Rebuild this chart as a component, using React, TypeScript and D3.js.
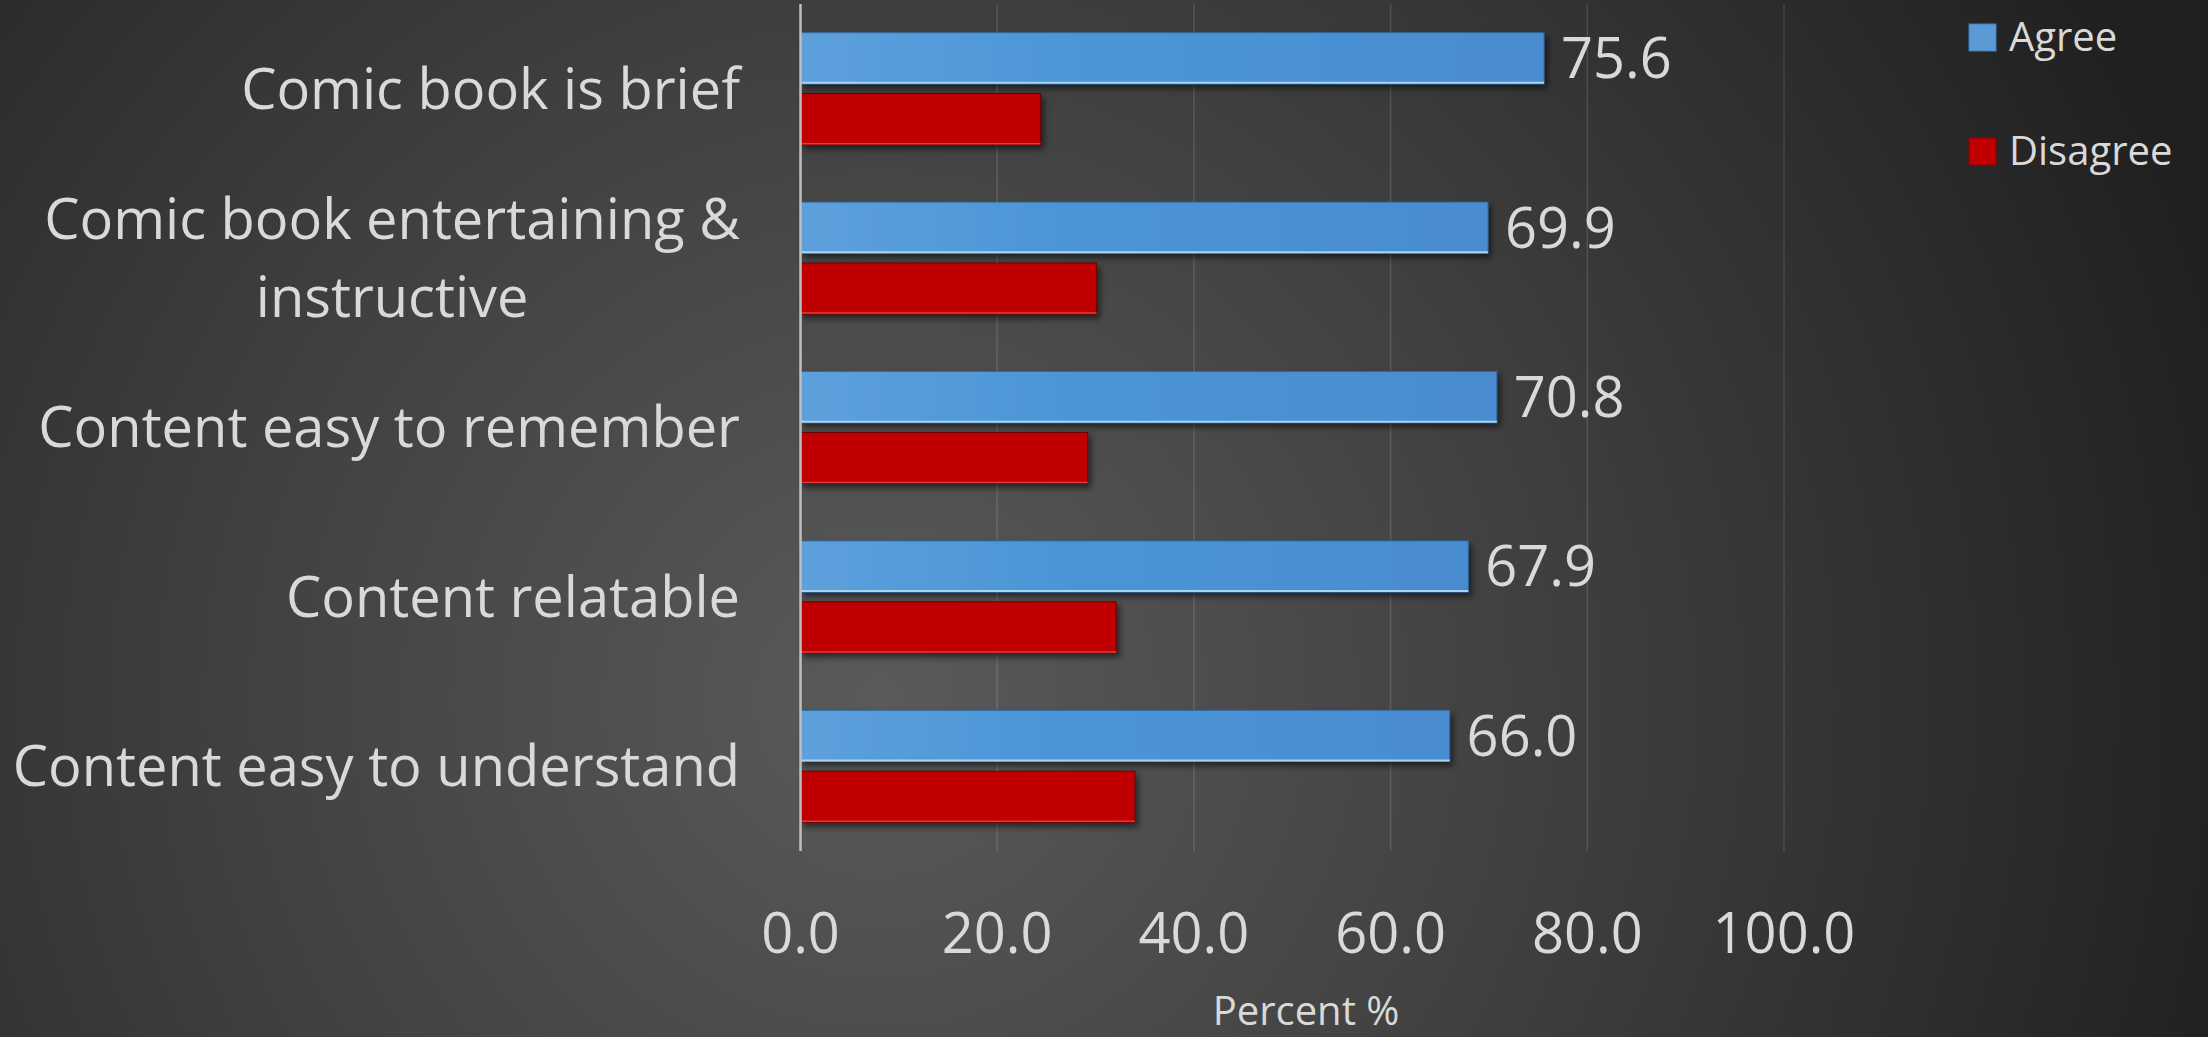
import React, { useEffect, useRef } from "react";
import * as d3 from "d3";

const categories = [
  "Comic book is brief",
  "Comic book entertaining & instructive",
  "Content easy to remember",
  "Content relatable",
  "Content easy to understand",
];
const agree = [75.6, 69.9, 70.8, 67.9, 66.0];
const disagree = [24.4, 30.1, 29.2, 32.1, 34.0];
const seriesNames = ["Agree", "Disagree"];
const xTicks = [0, 20, 40, 60, 80, 100];
const axisTitle = "Percent %";

const W = 2208;
const H = 1037;
const FONT = "'Open Sans', 'Noto Sans', sans-serif";
const TEXT = "#d9d9d9";

export default function App() {
  const ref = useRef<SVGSVGElement | null>(null);

  useEffect(() => {
    const svg = d3.select(ref.current);
    svg.selectAll("*").remove();

    const defs = svg.append("defs");
    const bg = defs
      .append("radialGradient")
      .attr("id", "bg")
      .attr("gradientUnits", "userSpaceOnUse")
      .attr("cx", 880)
      .attr("cy", 700)
      .attr("r", 1400);
    bg.append("stop").attr("offset", 0).attr("stop-color", "#5a5a5a");
    bg.append("stop").attr("offset", 0.45).attr("stop-color", "#414141");
    bg.append("stop").attr("offset", 1).attr("stop-color", "#202020");

    const blue = defs.append("linearGradient").attr("id", "blueg").attr("x1", 0).attr("x2", 1).attr("y1", 0).attr("y2", 0);
    blue.append("stop").attr("offset", 0).attr("stop-color", "#5da0dc");
    blue.append("stop").attr("offset", 0.4).attr("stop-color", "#4b95d6");
    blue.append("stop").attr("offset", 1).attr("stop-color", "#4a8ccf");

    const sh = defs.append("filter").attr("id", "shadow").attr("x", "-5%").attr("y", "-20%").attr("width", "115%").attr("height", "160%");
    sh.append("feDropShadow")
      .attr("dx", 3)
      .attr("dy", 4)
      .attr("stdDeviation", 3)
      .attr("flood-color", "#000")
      .attr("flood-opacity", 0.55);

    svg.append("rect").attr("width", W).attr("height", H).attr("fill", "url(#bg)");

    const x = d3.scaleLinear().domain([0, 100]).range([800.5, 1784]);
    const y = d3
      .scaleBand<string>()
      .domain(categories)
      .range([4, 851])
      .paddingInner(0.339)
      .paddingOuter(0.1695);
    const sub = d3
      .scaleBand<string>()
      .domain(seriesNames)
      .range([0, y.bandwidth()])
      .paddingInner(0.16);

    // gridlines
    svg
      .append("g")
      .selectAll("line")
      .data(xTicks.slice(1))
      .join("line")
      .attr("x1", (d) => x(d))
      .attr("x2", (d) => x(d))
      .attr("y1", 4)
      .attr("y2", 851)
      .attr("stroke", "rgba(255,255,255,0.13)")
      .attr("stroke-width", 1.5);

    const rows = categories.map((c, i) => ({ c, a: agree[i], d: disagree[i] }));

    // Disagree bars
    const gBars = svg.append("g");
    gBars
      .selectAll("rect.dis")
      .data(rows)
      .join("rect")
      .attr("class", "dis")
      .attr("x", x(0))
      .attr("y", (r) => (y(r.c) as number) + (sub("Disagree") as number))
      .attr("width", (r) => x(r.d) - x(0))
      .attr("height", sub.bandwidth())
      .attr("fill", "#c00000")
      .attr("stroke", "#6a0000")
      .attr("stroke-width", 1)
      .attr("filter", "url(#shadow)");
    gBars
      .selectAll("line.disb")
      .data(rows)
      .join("line")
      .attr("class", "disb")
      .attr("x1", x(0))
      .attr("x2", (r) => x(r.d))
      .attr("y1", (r) => (y(r.c) as number) + (sub("Disagree") as number) + sub.bandwidth() - 1)
      .attr("y2", (r) => (y(r.c) as number) + (sub("Disagree") as number) + sub.bandwidth() - 1)
      .attr("stroke", "#e8393a")
      .attr("stroke-width", 1.5);

    // Agree bars
    gBars
      .selectAll("rect.agr")
      .data(rows)
      .join("rect")
      .attr("class", "agr")
      .attr("x", x(0))
      .attr("y", (r) => (y(r.c) as number) + (sub("Agree") as number))
      .attr("width", (r) => x(r.a) - x(0))
      .attr("height", sub.bandwidth())
      .attr("fill", "url(#blueg)")
      .attr("stroke", "#2f6aa3")
      .attr("stroke-width", 1)
      .attr("filter", "url(#shadow)");
    gBars
      .selectAll("line.agrb")
      .data(rows)
      .join("line")
      .attr("class", "agrb")
      .attr("x1", x(0))
      .attr("x2", (r) => x(r.a))
      .attr("y1", (r) => (y(r.c) as number) + (sub("Agree") as number) + sub.bandwidth() - 1)
      .attr("y2", (r) => (y(r.c) as number) + (sub("Agree") as number) + sub.bandwidth() - 1)
      .attr("stroke", "#a8d4f2")
      .attr("stroke-width", 2);

    // axis line
    svg
      .append("line")
      .attr("x1", x(0))
      .attr("x2", x(0))
      .attr("y1", 4)
      .attr("y2", 851)
      .attr("stroke", "#bfbfbf")
      .attr("stroke-width", 2.5);

    // value labels
    const vfs = 56;
    svg
      .append("g")
      .selectAll("text")
      .data(rows)
      .join("text")
      .attr("x", (r) => x(r.a) + 17)
      .attr("y", (r) => (y(r.c) as number) + (sub("Agree") as number) + sub.bandwidth() / 2 + vfs * 0.357)
      .attr("fill", TEXT)
      .attr("font-family", FONT)
      .attr("font-size", vfs)
      .text((r) => r.a.toFixed(1));

    // x tick labels
    svg
      .append("g")
      .selectAll("text")
      .data(xTicks)
      .join("text")
      .attr("x", (d) => x(d))
      .attr("y", 953)
      .attr("text-anchor", "middle")
      .attr("fill", TEXT)
      .attr("font-family", FONT)
      .attr("font-size", 56)
      .text((d) => d3.format(".1f")(d));

    // axis title
    svg
      .append("text")
      .attr("x", 1306)
      .attr("y", 1025)
      .attr("text-anchor", "middle")
      .attr("fill", TEXT)
      .attr("font-family", FONT)
      .attr("font-size", 40)
      .text(axisTitle);

    // category labels with wrapping
    const cfs = 56;
    const right = 740;
    const maxW = 760;
    const gCat = svg.append("g").attr("font-family", FONT).attr("font-size", cfs).attr("fill", TEXT);
    const measure = gCat.append("text");
    const widthOf = (s: string) => {
      measure.text(s);
      return (measure.node() as SVGTextElement).getComputedTextLength();
    };
    categories.forEach((c) => {
      const words = c.split(" ");
      const lines: string[] = [];
      let cur = "";
      words.forEach((w) => {
        const t = cur ? cur + " " + w : w;
        if (widthOf(t) > maxW && cur) {
          lines.push(cur);
          cur = w;
        } else cur = t;
      });
      lines.push(cur);
      const widths = lines.map(widthOf);
      const mw = Math.max(...widths);
      const cx = right - mw / 2;
      const cy = (y(c) as number) + y.bandwidth() / 2;
      const lh = 78;
      lines.forEach((ln, k) => {
        const off = (k - (lines.length - 1) / 2) * lh;
        gCat
          .append("text")
          .attr("x", lines.length > 1 ? cx : right)
          .attr("y", cy + off + cfs * 0.357)
          .attr("text-anchor", lines.length > 1 ? "middle" : "end")
          .text(ln);
      });
    });
    measure.remove();

    // legend
    const colors = ["#5b9bd5", "#c00000"];
    const lg = svg.append("g");
    seriesNames.forEach((s, i) => {
      const yy = 24 + i * 114;
      lg.append("rect")
        .attr("x", 1969)
        .attr("y", yy)
        .attr("width", 27)
        .attr("height", 27)
        .attr("fill", colors[i])
        .attr("stroke", i === 0 ? "#3f7fbf" : "#8a0000")
        .attr("stroke-width", 1);
      lg.append("text")
        .attr("x", 2009)
        .attr("y", yy + 27)
        .attr("fill", TEXT)
        .attr("font-family", FONT)
        .attr("font-size", 40)
        .text(s);
    });
  }, []);

  return (
    <svg
      ref={ref}
      width={W}
      height={H}
      style={{ position: "absolute", left: 0, top: 0, display: "block" }}
    />
  );
}
